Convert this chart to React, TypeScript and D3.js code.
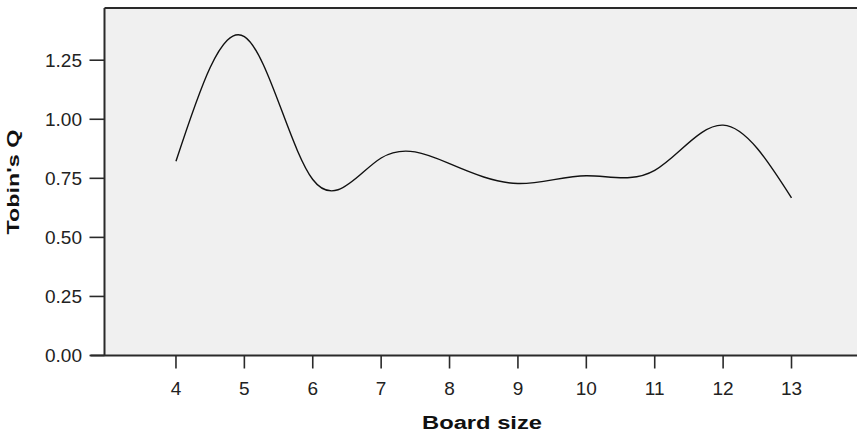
import React from "react";
import * as d3 from "d3";

const boardSizes = [4, 5, 6, 7, 8, 9, 10, 11, 12, 13];
const tobinsQ = [0.822, 1.35, 0.745, 0.836, 0.812, 0.728, 0.761, 0.784, 0.975, 0.667];
const xTicks = [4, 5, 6, 7, 8, 9, 10, 11, 12, 13];
const yTicks = [0, 0.25, 0.5, 0.75, 1.0, 1.25];

const W = 857;
const H = 436;
const left = 104.5;
const top = 8;
const bottom = 355.5;
const right = 864;

export default function App() {
  const x = d3.scaleLinear().domain([2.955, 14.06]).range([left, right]);
  const y = d3.scaleLinear().domain([0, 1.471]).range([bottom, top]);
  const line = d3
    .line<number>()
    .x((_, i) => x(boardSizes[i]))
    .y((d) => y(d))
    .curve(d3.curveNatural);
  const font = "'Liberation Sans', Arial, sans-serif";
  const axisColor = "#2a2a2a";
  return (
    <div style={{ position: "fixed", left: 0, top: 0 }}>
      <svg width={W} height={H} style={{ display: "block", background: "#ffffff" }}>
        <rect x={left} y={top} width={right - left} height={bottom - top} fill="#f0f0f0" />
        <line x1={left} x2={right} y1={top} y2={top} stroke={axisColor} strokeWidth={2} />
        <line x1={left} x2={left} y1={top} y2={bottom} stroke={axisColor} strokeWidth={2} />
        <line x1={left - 14} x2={right} y1={bottom} y2={bottom} stroke={axisColor} strokeWidth={2} />
        {yTicks.map((t) => (
          <g key={"y" + t}>
            <line x1={left - 15} x2={left} y1={y(t)} y2={y(t)} stroke={axisColor} strokeWidth={1.6} />
            <text
              x={82}
              y={y(t)}
              dy="0.36em"
              textAnchor="end"
              fontFamily={font}
              fontSize={19}
              fill="#222"
            >
              {t.toFixed(2)}
            </text>
          </g>
        ))}
        {xTicks.map((t) => (
          <g key={"x" + t}>
            <line x1={x(t)} x2={x(t)} y1={bottom} y2={bottom + 13} stroke={axisColor} strokeWidth={1.6} />
            <text
              x={x(t)}
              y={388}
              dy="0.36em"
              textAnchor="middle"
              fontFamily={font}
              fontSize={19}
              fill="#222"
            >
              {t}
            </text>
          </g>
        ))}
        <path d={line(tobinsQ) || ""} fill="none" stroke="#111" strokeWidth={1.4} />
        <text
          x={482}
          y={423}
          dy="0.36em"
          textAnchor="middle"
          fontFamily={font}
          fontWeight="bold"
          fontSize={18}
          textLength={120}
          lengthAdjust="spacingAndGlyphs"
          fill="#111"
        >
          Board size
        </text>
        <text
          transform={`translate(13,182) rotate(-90)`}
          dy="0.36em"
          textAnchor="middle"
          fontFamily={font}
          fontWeight="bold"
          fontSize={16}
          textLength={105}
          lengthAdjust="spacingAndGlyphs"
          fill="#111"
        >
          Tobin's Q
        </text>
      </svg>
    </div>
  );
}
